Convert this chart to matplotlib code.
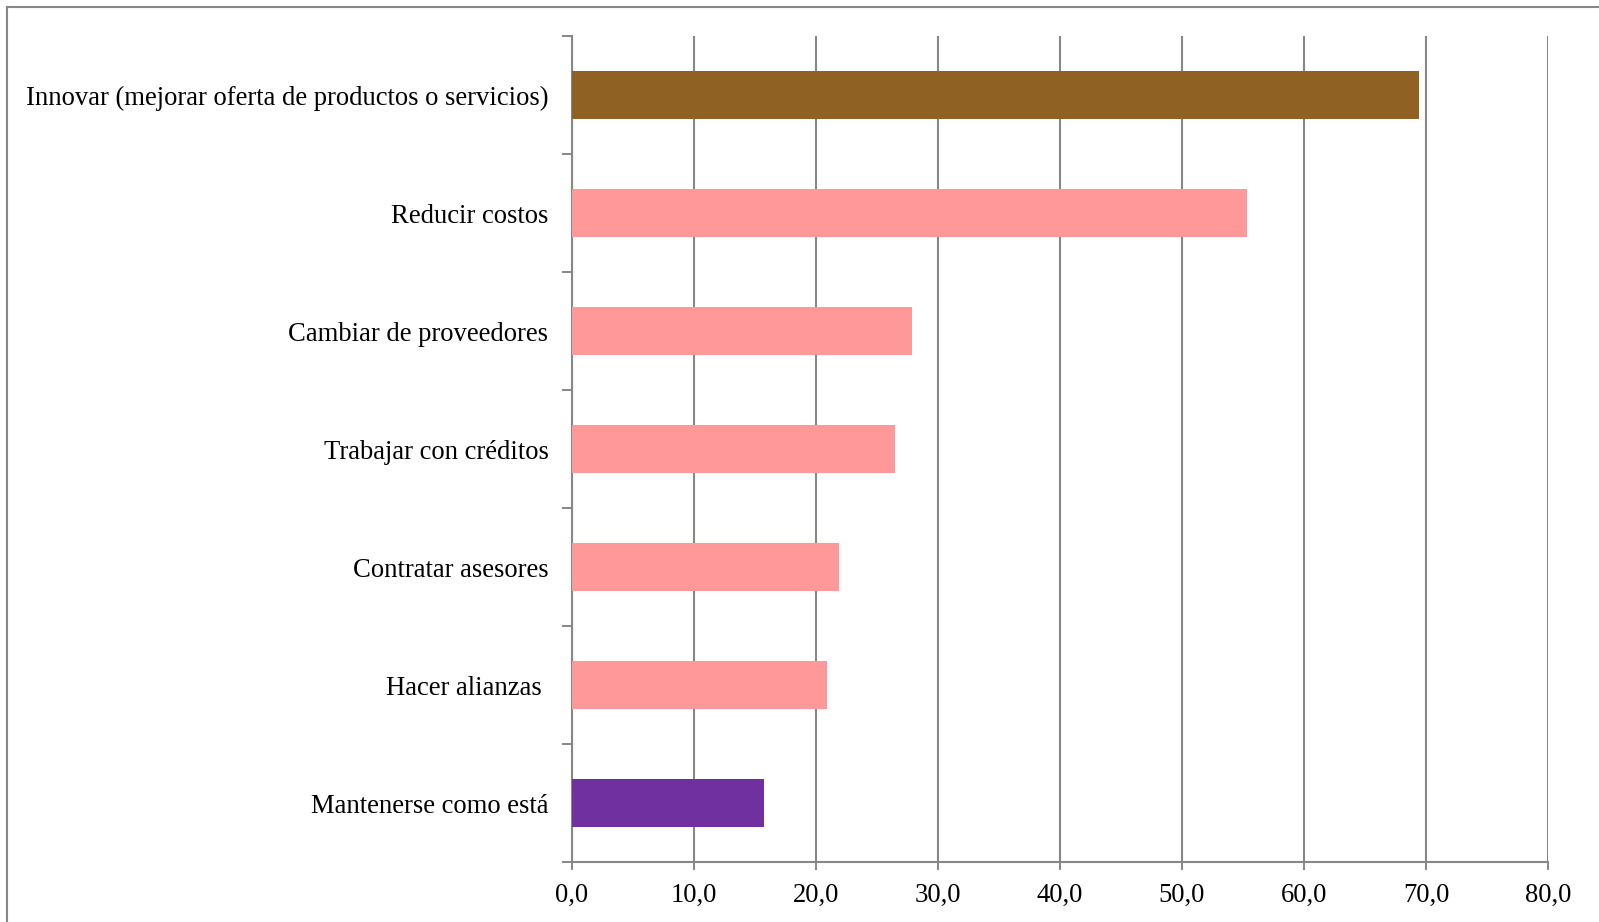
import matplotlib
matplotlib.use("Agg")
import matplotlib.pyplot as plt
from matplotlib.lines import Line2D

# datos del gráfico (de abajo hacia arriba)
categorias = [
    "Mantenerse como está",
    "Hacer alianzas ",
    "Contratar asesores",
    "Trabajar con créditos",
    "Cambiar de proveedores",
    "Reducir costos",
    "Innovar (mejorar oferta de productos o servicios)",
]
valores = [15.7, 20.9, 21.9, 26.5, 27.9, 55.3, 69.4]
colores = ["#7030A0", "#FF9999", "#FF9999", "#FF9999", "#FF9999", "#FF9999", "#8F6122"]
ticks_x = [0, 10, 20, 30, 40, 50, 60, 70, 80]

plt.rcParams["font.family"] = ["Liberation Serif", "DejaVu Serif"]
GRIS = "#878787"

fig = plt.figure(figsize=(15.99, 9.22), dpi=100)
ax = fig.add_axes([572 / 1599, 1 - 862 / 922, (1548 - 572) / 1599, (862 - 36) / 922])

pos = list(range(len(categorias)))
ax.barh(pos, valores, height=0.41, color=colores, zorder=3)

ax.set_xlim(0, 80)
ax.set_ylim(-0.5, len(categorias) - 0.5)
ax.set_xticks(ticks_x)
ax.set_xticklabels([f"{t:.1f}".replace(".", ",") for t in ticks_x], fontsize=19.2)
ax.set_yticks(pos)
ax.set_yticklabels(categorias, fontsize=19.2)
ax.set_yticks([p - 0.5 for p in range(len(categorias) + 1)], minor=True)

ax.tick_params(axis="y", which="major", length=0, pad=17)
ax.tick_params(axis="y", which="minor", length=7, width=1.4, color=GRIS)
ax.tick_params(axis="x", length=6, width=1.4, color=GRIS, pad=9)

ax.grid(axis="x", color=GRIS, linewidth=1.5, zorder=0)
ax.set_axisbelow(True)
for s in ["top", "right"]:
    ax.spines[s].set_visible(False)
for s in ["left", "bottom"]:
    ax.spines[s].set_color(GRIS)
    ax.spines[s].set_linewidth(1.5)

# marco exterior (solo arriba e izquierda quedan visibles)
fig.add_artist(Line2D([7 / 1599, 1], [1 - 7 / 922, 1 - 7 / 922], color=GRIS, lw=1.5))
fig.add_artist(Line2D([7 / 1599, 7 / 1599], [0, 1 - 7 / 922], color=GRIS, lw=1.5))

fig.savefig("out.png", dpi=100, facecolor="white")
